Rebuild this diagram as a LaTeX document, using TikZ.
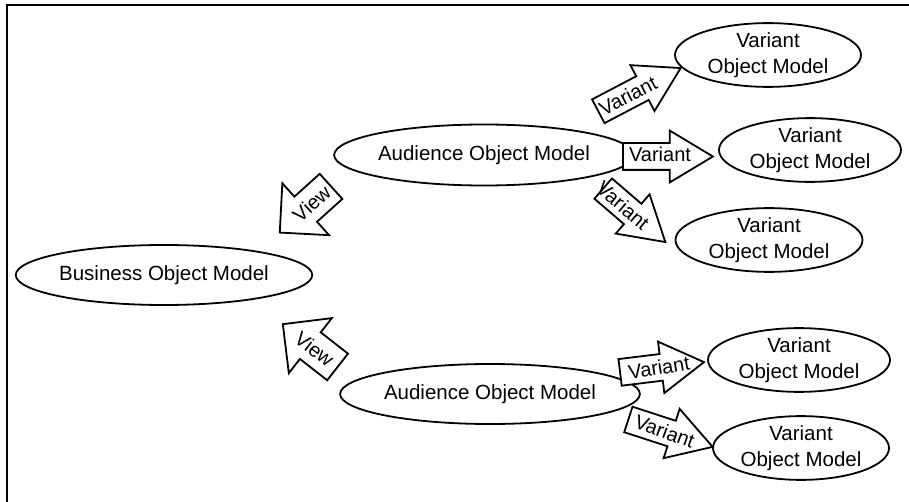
\documentclass[tikz,border=0pt]{standalone}
\usepackage{fontspec}
\setmainfont{Liberation Sans}
\usepackage{tikz}
\usetikzlibrary{shapes.geometric,shapes.arrows,calc}

\begin{document}
\begin{tikzpicture}[x=1pt, y=-1pt,
    model/.style={ellipse, draw=black, line width=1.8pt, fill=white, inner sep=0pt, align=center, font=\fontsize{20.5}{26}\selectfont},
    varr/.style={single arrow, draw=black, line width=1.8pt, fill=white, inner xsep=0pt, inner ysep=12.5pt, single arrow head extend=12.5pt, single arrow tip angle=62, anchor=tail},
    viewarr/.style={varr, inner ysep=16pt, single arrow head extend=18pt, single arrow tip angle=90},
    lbl/.style={inner sep=0pt, font=\fontsize{20}{24}\selectfont}]

    \useasboundingbox (0,0) rectangle (909,502);
    \draw [line width=2pt] (7,502) -- (7,5) -- (909,5);

    % object models
    \node [model, minimum width=264pt, minimum height=60pt] (bom) at (164,275) {Business Object Model};
    \node [model, minimum width=247pt, minimum height=61pt] (aud1) at (484,155) {Audience Object Model};
    \node [model, minimum width=247pt, minimum height=60pt] (aud2) at (490,394) {Audience Object Model};
    \node [model, minimum width=186pt, minimum height=58pt] (var1) at (768,55) {Variant\\Object Model};
    \node [model, minimum width=182pt, minimum height=62pt] (var2) at (810,150) {Variant\\Object Model};
    \node [model, minimum width=187pt, minimum height=59pt] (var3) at (769,240) {Variant\\Object Model};
    \node [model, minimum width=182pt, minimum height=56pt] (var4) at (799,360) {Variant\\Object Model};
    \node [model, minimum width=176pt, minimum height=59pt] (var5) at (801,448) {Variant\\Object Model};

    % view arrows
    \node [viewarr, rotate=222, minimum height=69pt] (view1) at (331.7,185.8) {};
    \node [lbl, rotate=42] at ($(view1.tail)!0.38!(view1.tip)$) {View};
    \node [viewarr, rotate=142, minimum height=69.5pt] (view2) at (338.3,367.5) {};
    \node [lbl, rotate=-38] at ($(view2.tail)!0.42!(view2.tip)$) {View};

    % variant arrows
    \node [varr, rotate=27.7, minimum height=93pt] (arr1) at (597.5,111.7) {};
    \node [lbl, rotate=27.7] at ($(arr1.tail)!0.36!(arr1.tip)$) {Variant};
    \node [varr, rotate=0, minimum height=90pt] (arr2) at (622,156.5) {};
    \node [lbl] at ($(arr2.tail)!0.41!(arr2.tip)+(0,-2)$) {Variant};
    \node [varr, rotate=-40.7, minimum height=82pt] (arr3) at (602.5,188) {};
    \node [lbl, rotate=-40.7] at ($(arr3.tail)!0.32!(arr3.tip)$) {Variant};
    \node [varr, rotate=7, minimum height=84.5pt] (arr4) at (619.2,372.5) {};
    \node [lbl, rotate=9] at ($(arr4.tail)!0.46!(arr4.tip)$) {Variant};
    \node [varr, rotate=-18, minimum height=88.6pt] (arr5) at (627.5,419.2) {};
    \node [lbl, rotate=-20] at ($(arr5.tail)!0.43!(arr5.tip)$) {Variant};
\end{tikzpicture}
\end{document}
